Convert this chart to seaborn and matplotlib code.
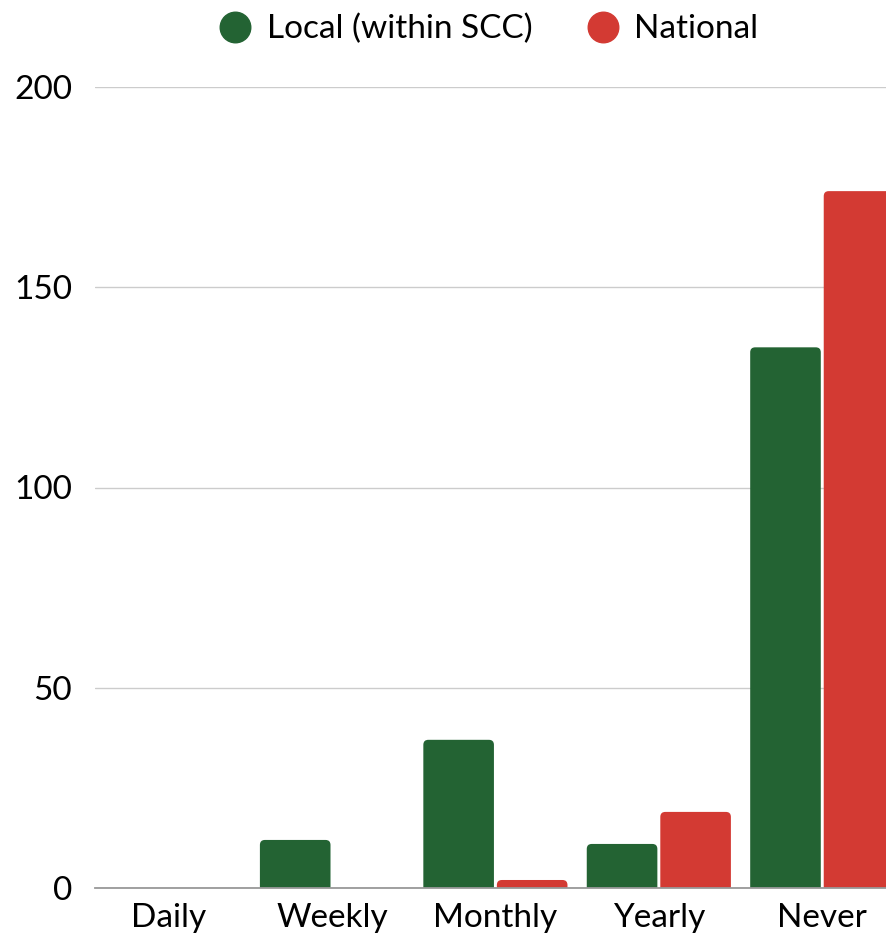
import matplotlib
matplotlib.use("Agg")
import matplotlib.pyplot as plt
import pandas as pd
import seaborn as sns
from matplotlib.lines import Line2D
from matplotlib.patches import FancyBboxPatch

categories = ["Daily", "Weekly", "Monthly", "Yearly", "Never"]
local_counts = [0, 12, 37, 11, 135]
national_counts = [0, 0, 2, 19, 174]
series_names = ["Local (within SCC)", "National"]
colors = ["#236333", "#D33A33"]

df = pd.DataFrame({
    "freq": categories * 2,
    "count": local_counts + national_counts,
    "series": [series_names[0]] * 5 + [series_names[1]] * 5,
})

sns.set_style("white")
plt.rcParams["font.family"] = ["Lato", "DejaVu Sans"]
plt.rcParams["text.color"] = "black"
plt.rcParams["xtick.color"] = "black"
plt.rcParams["ytick.color"] = "black"

W, H = 886, 936
fig = plt.figure(figsize=(W / 100, H / 100), dpi=100)
ax = fig.add_axes([95 / W, 1 - 888 / H, (886 - 95) / W, (888 - 87) / H])

sns.barplot(data=df, x="freq", y="count", hue="series", order=categories,
            hue_order=series_names, palette=colors, width=0.9, gap=0.04,
            saturation=1, legend=False, ax=ax)

ax.set_ylim(0, 200)
ax.set_xlim(-0.45, 4.39)

# round the top corners of the bars (bottom corners hidden below the axis)
px_x = (886 - 95) / (4.39 + 0.45)
px_y = (888 - 87) / 200
r = 5 / px_x
aspect = px_x / px_y
for p in list(ax.patches):
    h = p.get_height()
    if h > 0:
        ry = r * aspect
        fb = FancyBboxPatch((p.get_x(), -ry), p.get_width(), h + ry,
                            boxstyle=f"round,pad=0,rounding_size={r}",
                            mutation_aspect=aspect,
                            facecolor=p.get_facecolor(), edgecolor="none")
        ax.add_patch(fb)
    p.remove()

ax.set_yticks([0, 50, 100, 150, 200])
ax.yaxis.grid(True, color="#cccccc", linewidth=1)
ax.set_axisbelow(True)
for s in ["top", "right", "left"]:
    ax.spines[s].set_visible(False)
ax.spines["bottom"].set_color("#999999")
ax.spines["bottom"].set_linewidth(1.3)
ax.spines["bottom"].set_zorder(5)
ax.set_xlabel("")
ax.set_ylabel("")
ax.tick_params(axis="y", length=0, pad=16.5, labelsize=24)
ax.tick_params(axis="x", length=0, pad=11, labelsize=24)

handles = [Line2D([], [], marker="o", linestyle="", markersize=22,
                  markerfacecolor=c, markeredgecolor=c) for c in colors]
fig.legend(handles, series_names, loc="center", bbox_to_anchor=(487 / W, 1 - 29 / H),
           ncol=2, frameon=False, fontsize=24, handletextpad=0.35,
           columnspacing=1.5, handlelength=1.2)

fig.savefig("out.png", dpi=100)
